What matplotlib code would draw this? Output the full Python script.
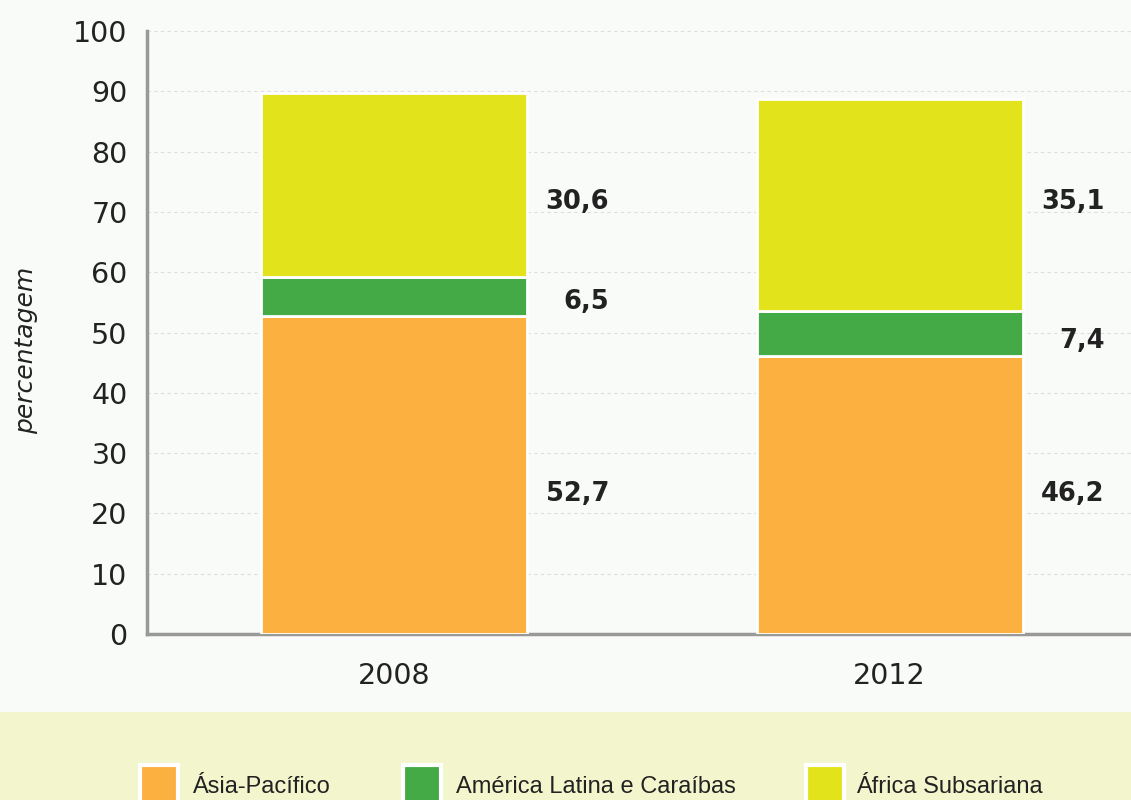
import matplotlib
matplotlib.use("Agg")
import matplotlib.pyplot as plt
from matplotlib.patches import Rectangle

years = ["2008", "2012"]
series = ["Ásia-Pacífico", "América Latina e Caraíbas", "África Subsariana"]
asia = [52.7, 46.2]
latam = [6.5, 7.4]
africa = [30.6, 35.1]
colors = ["#FBB040", "#43AA45", "#E2E31A"]
yticks = [0, 10, 20, 30, 40, 50, 60, 70, 80, 90, 100]
label_y = [[23.2, 55.1, 71.6], [23.2, 48.6, 71.6]]

plt.rcParams['font.family'] = ['DejaVu Sans']

fig = plt.figure(figsize=(11.31, 8.0), dpi=100)
fig.patch.set_facecolor("#F9FBF8")
ax = fig.add_axes([0.130, 0.2075, 0.870, 0.7535])
ax.set_facecolor("#F9FBF8")

x = list(range(len(years)))
bw = 0.537
bottom = [0.0] * len(years)
for vals, c in zip([asia, latam, africa], colors):
    ax.bar(x, vals, bw, bottom=bottom, color=c, edgecolor="white", linewidth=2, zorder=3)
    bottom = [b + v for b, v in zip(bottom, vals)]

for i in x:
    for v, yy in zip([asia[i], latam[i], africa[i]], label_y[i]):
        ax.text(i + 0.434, yy, f"{v:.1f}".replace(".", ","), ha="right", va="center",
                fontsize=18.5, fontweight="bold", color="#222222")

ax.set_xlim(-0.4985, 1.487)
ax.set_ylim(0, 100)
ax.set_yticks(yticks)
ax.set_yticklabels([str(t) for t in yticks], fontsize=20.5, color="#222222")
ax.set_xticks(x)
ax.set_xticklabels(years, fontsize=20.5, color="#222222")
ax.tick_params(axis="y", length=0, pad=14)
ax.tick_params(axis="x", length=0, pad=20)
ax.yaxis.grid(True, linestyle=(0, (3, 3)), color="#DDDDDD", linewidth=0.8, zorder=0)
ax.set_axisbelow(True)
for s in ["top", "right"]:
    ax.spines[s].set_visible(False)
for s in ["left", "bottom"]:
    ax.spines[s].set_color("#999999")
    ax.spines[s].set_linewidth(2.5)
ax.set_ylabel("percentagem", fontsize=18, style="italic", color="#222222",
              fontweight="light")
ax.yaxis.set_label_coords(-0.111, 0.47)

# legend band
fig.add_artist(Rectangle((0, 0), 1, 88 / 800, transform=fig.transFigure,
                         facecolor="#F3F6CC", edgecolor="none", zorder=0))
patch_x = [140, 403, 806]
text_x = [192, 456, 856]
for px, tx, name, c in zip(patch_x, text_x, series, colors):
    fig.add_artist(Rectangle((px / 1131, -0.01), 38 / 1131, (35 / 800) + 0.01,
                             transform=fig.transFigure, facecolor=c,
                             edgecolor="white", linewidth=3, zorder=2))
    fig.text(tx / 1131, 2 / 800, name, ha="left", va="bottom", fontsize=17,
             color="#222222", family=['Liberation Sans Narrow', 'Liberation Sans', 'DejaVu Sans'])

fig.savefig("out.png", dpi=100, facecolor=fig.get_facecolor())
